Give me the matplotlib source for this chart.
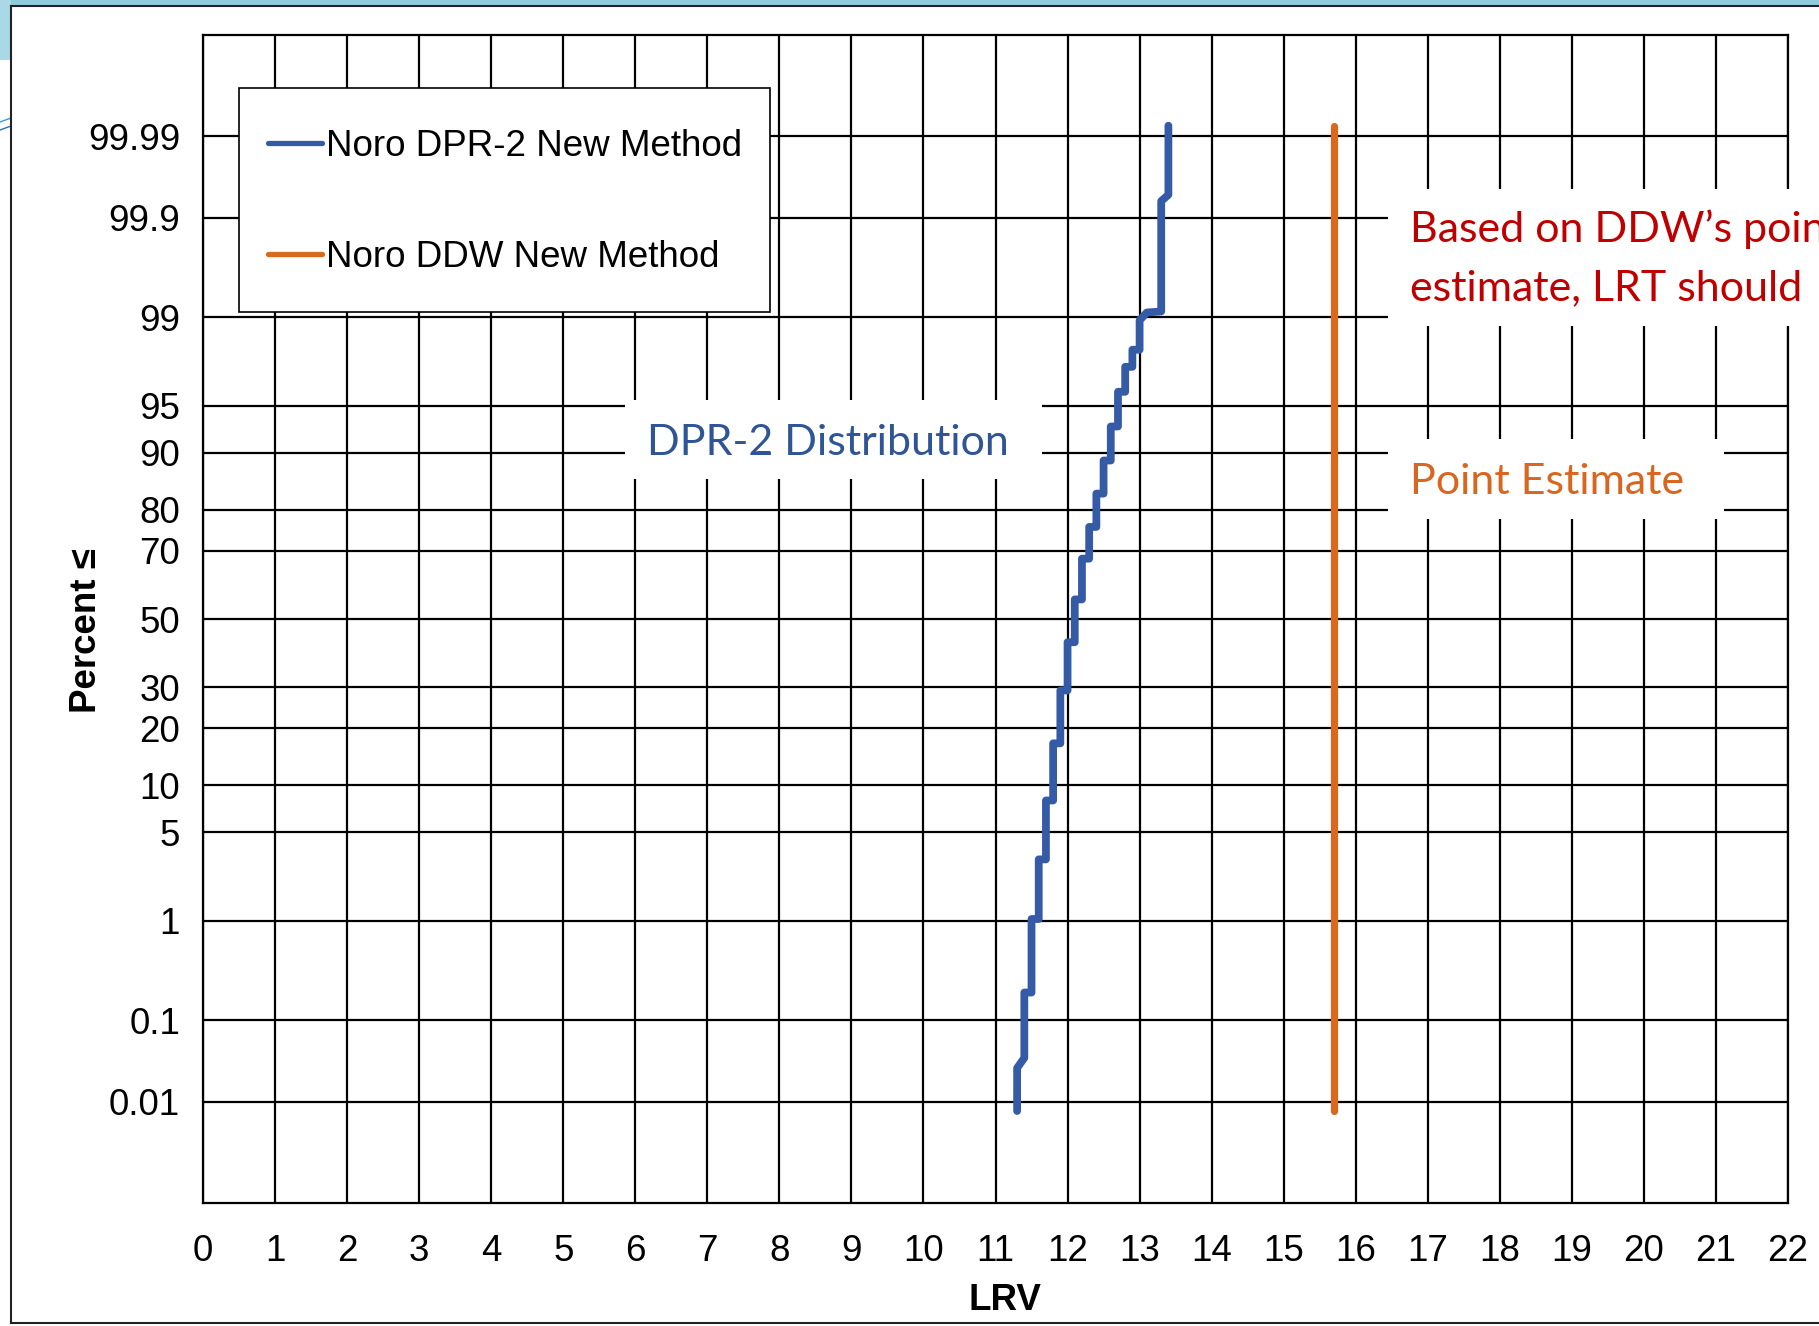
from statistics import NormalDist

import numpy as np
import matplotlib
matplotlib.use('Agg')
import matplotlib.pyplot as plt
from matplotlib.patches import Rectangle

plt.rcParams['font.family'] = ['Liberation Sans', 'DejaVu Sans']

# DPR-2 distribution: step curve vertices (LRV, cumulative percent)
dpr2_lrv = [11.3, 11.3, 11.4, 11.4, 11.5, 11.5, 11.6, 11.6, 11.7, 11.7,
            11.8, 11.8, 11.9, 11.9, 12.0, 12.0, 12.1, 12.1, 12.2, 12.2,
            12.3, 12.3, 12.4, 12.4, 12.5, 12.5, 12.6, 12.6, 12.7, 12.7,
            12.8, 12.8, 12.9, 12.9, 13.0, 13.0, 13.1, 13.3, 13.3, 13.4, 13.4]
dpr2_pct = [0.0075, 0.027, 0.036, 0.20, 0.20, 1.04, 1.04, 3.2, 3.2, 8.1,
            8.1, 16.9, 16.9, 29.1, 29.1, 42.9, 42.9, 56.0, 56.0, 67.9,
            67.9, 76.1, 76.1, 83.3, 83.3, 88.9, 88.9, 93.1, 93.1, 96.0,
            96.0, 97.4, 97.4, 98.1, 98.1, 98.93, 99.09, 99.11, 99.936, 99.946, 99.9928]

# DDW point estimate
ddw_lrv = [15.7, 15.7]
ddw_pct = [0.0075, 99.9928]

x_ticks = list(range(0, 23))
pct_ticks = [0.01, 0.1, 1, 5, 10, 20, 30, 50, 70, 80, 90, 95, 99, 99.9, 99.99]
pct_labels = ['0.01', '0.1', '1', '5', '10', '20', '30', '50', '70', '80',
              '90', '95', '99', '99.9', '99.99']

series_names = ['Noro DPR-2 New Method', 'Noro DDW New Method']
blue = '#355BA6'
orange = '#D9691F'

_nd = NormalDist()


def to_z(p):
    p = np.clip(np.asarray(p, dtype=float) / 100.0, 1e-12, 1 - 1e-12)
    return np.vectorize(_nd.inv_cdf, otypes=[float])(p)


def from_z(z):
    z = np.asarray(z, dtype=float)
    return 100.0 * np.vectorize(_nd.cdf, otypes=[float])(z)


W, H = 1819, 1326
fig = plt.figure(figsize=(W / 100, H / 100), dpi=100)
fig.patch.set_facecolor('white')

# slide frame bits
fig.patches.append(Rectangle((0, 1 - 6 / H), 1, 6 / H, transform=fig.transFigure,
                             fc='#8FCADD', ec='none', zorder=0))
fig.patches.append(Rectangle((0, 1 - 60 / H), 11 / W, 60 / H, transform=fig.transFigure,
                             fc='#A9D8E6', ec='none', zorder=0))
fig.lines.append(plt.Line2D([0, 11 / W], [1 - 122 / H, 1 - 118 / H], transform=fig.transFigure,
                            color='#3A9AD0', lw=1.0))
fig.lines.append(plt.Line2D([0, 11 / W], [1 - 130 / H, 1 - 126 / H], transform=fig.transFigure,
                            color='#2E6FC0', lw=1.0))
fig.lines.append(plt.Line2D([11 / W, 11 / W], [3 / H, 1 - 6 / H], transform=fig.transFigure,
                            color='#222222', lw=1.5))
fig.lines.append(plt.Line2D([11 / W, 1], [1 - 6 / H, 1 - 6 / H], transform=fig.transFigure,
                            color='#222222', lw=1.5))
fig.lines.append(plt.Line2D([11 / W, 1], [3 / H, 3 / H], transform=fig.transFigure,
                            color='#222222', lw=1.5))

ax = fig.add_axes([203 / W, 123 / H, 1585 / W, 1168 / H])
ax.set_yscale('function', functions=(to_z, from_z))

ax.plot(dpr2_lrv, dpr2_pct, color=blue, lw=5.6, solid_capstyle='round',
        solid_joinstyle='round', label=series_names[0], zorder=4)
ax.plot(ddw_lrv, ddw_pct, color=orange, lw=5.2, solid_capstyle='round',
        label=series_names[1], zorder=4)

ax.set_xlim(0, 22)
ax.set_ylim(from_z(-4.5), from_z(4.5))
ax.set_xticks(x_ticks)
ax.set_yticks(pct_ticks, labels=pct_labels)
ax.minorticks_off()
ax.tick_params(length=0, labelsize=26.5)
ax.tick_params(axis='x', pad=22)
ax.tick_params(axis='y', pad=16.5)
ax.grid(True, color='black', lw=1.6)
for s in ax.spines.values():
    s.set_linewidth(1.6)
    s.set_color('black')

# legend: frame drawn separately so it can be taller than the entries need
ax.add_patch(Rectangle((0.0227, 0.7626), 0.3353, 0.1923, transform=ax.transAxes,
                       fc='white', ec='black', lw=1.2, zorder=4.5))
leg = ax.legend(loc='upper left', bbox_to_anchor=(0.0227, 0.945), borderaxespad=0,
                frameon=False, fontsize=26.5, handlelength=1.45, handletextpad=0.12,
                labelspacing=2.08, borderpad=0.8)
leg.set_zorder(5)
for ln in leg.get_lines():
    ln.set_linewidth(3.8)

# annotation boxes (white, covering the grid)
ann_font = ['Lato', 'DejaVu Sans']
ax.add_patch(Rectangle((0.2662, 0.6199), 0.2631, 0.0676, transform=ax.transAxes,
                       fc='white', ec='none', zorder=3))
ax.text(0.2801, 0.6404, 'DPR-2 Distribution', transform=ax.transAxes, color='#2F5597',
        fontsize=31, family=ann_font, va='baseline', ha='left', zorder=5)

ax.add_patch(Rectangle((0.7476, 0.5860), 0.2120, 0.0681, transform=ax.transAxes,
                       fc='white', ec='none', zorder=3))
ax.text(0.7615, 0.607, 'Point Estimate', transform=ax.transAxes, color='#D9661F',
        fontsize=31, family=ann_font, va='baseline', ha='left', zorder=5)

ax.add_patch(Rectangle((0.7476, 0.7509), 0.5, 0.1169, transform=ax.transAxes,
                       fc='white', ec='none', zorder=3, clip_on=False))
ax.text(0.7615, 0.8228, 'Based on DDW\u2019s point', transform=ax.transAxes, color='#C00000',
        fontsize=31, family=ann_font, va='baseline', ha='left', zorder=5, clip_on=False)
ax.text(0.7615, 0.7731, 'estimate, LRT should', transform=ax.transAxes, color='#C00000',
        fontsize=31, family=ann_font, va='baseline', ha='left', zorder=5, clip_on=False)

fig.text(1004.6 / W, 1 - 1310 / H, 'LRV', fontsize=26.5, fontweight='bold',
         ha='center', va='baseline')
fig.text(86 / W, 1 - 630.5 / H, 'Percent \u2264', fontsize=26.5, fontweight='bold',
         rotation=90, ha='center', va='center')

fig.savefig('out.png', dpi=100)
